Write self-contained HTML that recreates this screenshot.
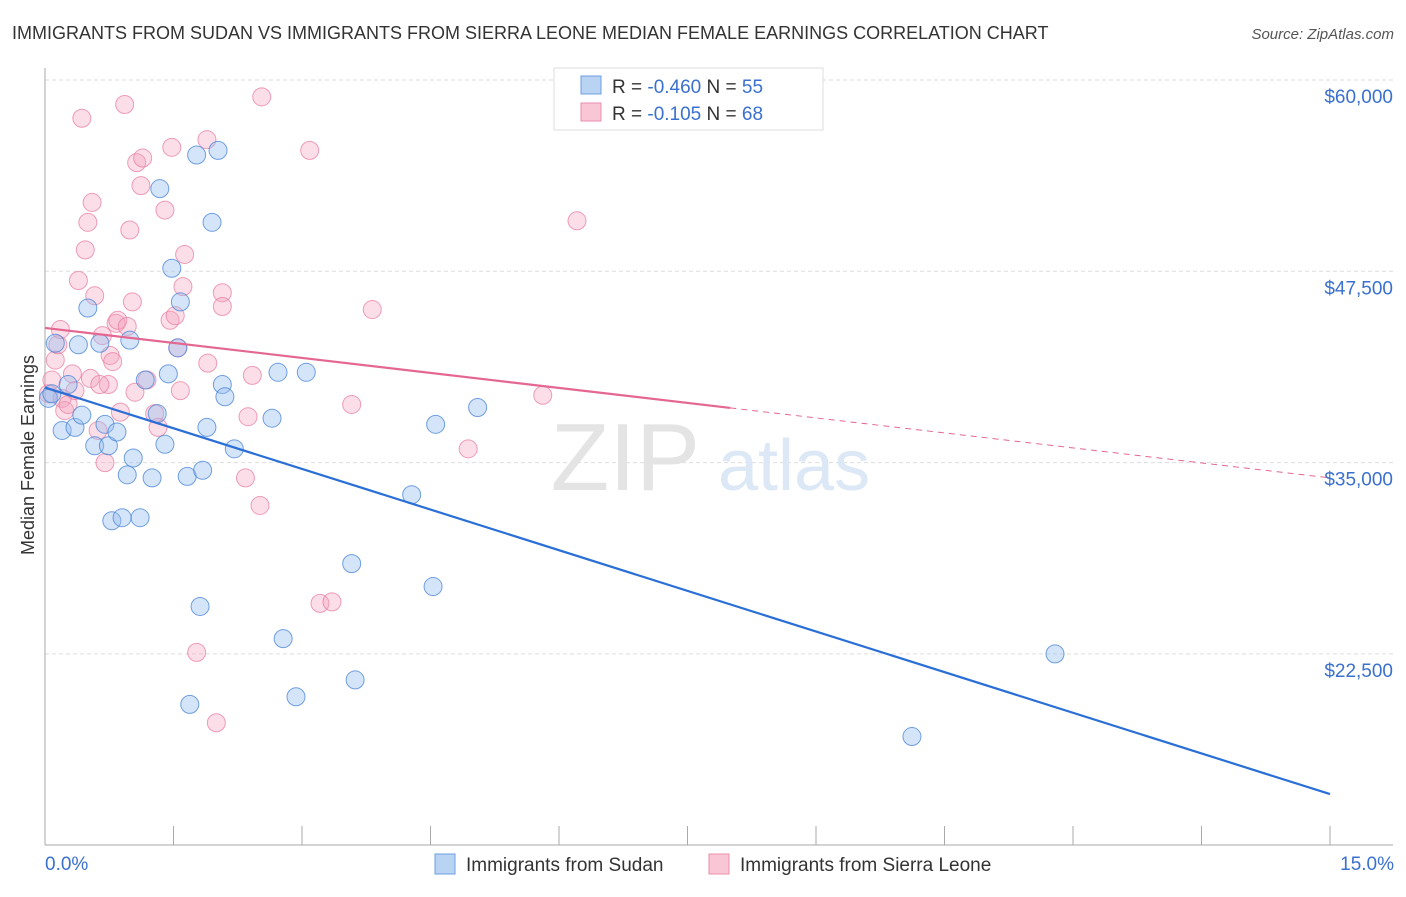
<!DOCTYPE html>
<html><head><meta charset="utf-8"><style>
body{margin:0;background:#fff;font-family:"Liberation Sans",sans-serif;}
svg text{font-family:"Liberation Sans",sans-serif;}
</style></head><body>
<svg id="chart" width="1406" height="892" viewBox="0 0 1406 892" xmlns="http://www.w3.org/2000/svg">
<text x="12" y="39" font-size="18" fill="#333">IMMIGRANTS FROM SUDAN VS IMMIGRANTS FROM SIERRA LEONE MEDIAN FEMALE EARNINGS CORRELATION CHART</text>
<text x="1394" y="39" font-size="15" fill="#555" font-style="italic" text-anchor="end">Source: ZipAtlas.com</text>
<g id="grid"></g>
<text x="700" y="490" font-size="96" fill="#e4e4e4" text-anchor="end" font-family="Liberation Serif">ZIP</text>
<text x="718" y="490" font-size="72" fill="#dce8f6">atlas</text>
<g id="axes"></g>
<g id="pts"></g>
<g id="lines"></g>
<text transform="translate(34,455) rotate(-90)" font-size="18" fill="#333" text-anchor="middle">Median Female Earnings</text>
<g>
<rect x="554" y="68" width="269" height="62" fill="#fff" stroke="#ddd"/>
<rect x="581" y="76" width="20" height="18" fill="#b9d3f3" stroke="#6d9fe0"/>
<rect x="581" y="103" width="20" height="18" fill="#f9c6d5" stroke="#ec8fab"/>
<text x="612" y="93" font-size="19" fill="#333">R = <tspan fill="#3a70cf">-0.460</tspan>   N = <tspan fill="#3a70cf">55</tspan></text>
<text x="612" y="120" font-size="19" fill="#333">R =  <tspan fill="#3a70cf">-0.105</tspan>   N = <tspan fill="#3a70cf">68</tspan></text>
</g>
<g>
<rect x="435" y="854" width="20" height="20" fill="#b9d3f3" stroke="#6d9fe0"/>
<text x="466" y="871" font-size="19" fill="#333">Immigrants from Sudan</text>
<rect x="709" y="854" width="20" height="20" fill="#f9c6d5" stroke="#ec8fab"/>
<text x="740" y="871" font-size="19" fill="#333">Immigrants from Sierra Leone</text>
</g>
</svg>
<script>
const yTicks=[60000,47500,35000,22500];
const yTickLabels=["$60,000","$47,500","$35,000","$22,500"];
const xTickLabels=["0.0%","15.0%"];
const sudanX=[0.04,0.08,0.12,0.20,0.27,0.35,0.39,0.43,0.50,0.58,0.64,0.70,0.74,0.78,0.84,0.90,0.96,0.99,1.03,1.11,1.17,1.25,1.31,1.34,1.40,1.44,1.48,1.55,1.58,1.66,1.77,1.81,1.84,1.89,1.95,2.02,2.07,2.10,2.21,2.65,2.72,2.78,2.93,3.05,3.58,3.62,4.28,4.53,4.56,5.05,11.79,10.12,1.69];
const sudanY=[39200,39500,42800,37100,40100,37300,42700,38100,45100,36100,42800,37500,36100,31200,37000,31400,34200,43000,35300,31400,40400,34000,38200,52900,36200,40800,47700,42500,45500,34100,55100,25600,34500,37300,50700,55400,40100,39300,35900,37900,40900,23500,19700,40900,28400,20800,32900,26900,37500,38600,22500,17100,19200];
const sierraX=[0.04,0.08,0.12,0.15,0.20,0.23,0.27,0.32,0.39,0.43,0.47,0.50,0.55,0.58,0.62,0.67,0.70,0.74,0.76,0.79,0.83,0.85,0.88,0.93,0.96,0.99,1.02,1.05,1.07,1.12,1.14,1.19,1.28,1.32,1.40,1.46,1.48,1.52,1.55,1.58,1.61,1.63,1.77,1.89,1.90,2.00,2.07,2.07,2.37,2.34,2.42,2.51,2.53,3.09,3.21,3.35,3.58,3.82,4.94,5.81,6.21,0.53,0.64,0.35,0.18];
const sierraY=[39500,40400,41700,42700,39200,38400,38800,40800,46900,57500,48900,50700,52000,45900,37100,43300,35000,40100,42000,41600,44100,44300,38300,58400,43900,50200,45500,39600,54600,53100,54900,40400,38200,37300,51500,44300,55600,44600,42500,39700,46500,48600,22600,56100,41500,18000,46100,45200,38000,34000,40700,32200,58900,55400,25800,25900,38800,45000,35900,39400,50800,40500,40100,39700,43700];
const sudanTrend=[39900,13340];
const sierraTrend=[43800,34000];
const sierraSolidEnd=8.0;
const NS="http://www.w3.org/2000/svg";
const X0=45,X1=1330,Y0=80,PPY=191.3/12500;
const sx=v=>X0+(X1-X0)*v/15;
const sy=v=>Y0+(60000-v)*PPY;
function mk(tag,attrs,parent){const e=document.createElementNS(NS,tag);for(const k in attrs)e.setAttribute(k,attrs[k]);parent.appendChild(e);return e;}
const grid=document.getElementById('grid'),axes=document.getElementById('axes');
yTicks.forEach((t,i)=>{
 const l=mk('line',{x1:X0,x2:1393,y1:sy(t),y2:sy(t),stroke:'#ddd','stroke-dasharray':'4,3'},grid);
 
 
 const tx=mk('text',{x:1393,y:sy(t)+23,'font-size':19,fill:'#3a70cf','text-anchor':'end'},axes);
 tx.textContent=yTickLabels[i];
 
 
});
const ya=mk('line',{x1:X0,x2:X0,y1:68,y2:845,stroke:'#aaa'},axes);


const xa=mk('line',{x1:X0,x2:1393,y1:845,y2:845,stroke:'#aaa'},axes);


for(let i=0;i<=10;i++){
 const tk=mk('line',{x1:sx(i*1.5),x2:sx(i*1.5),y1:826,y2:845,stroke:'#aaa'},axes);
 
 
}
[[0,'start',45],[1,'end',1394]].forEach(([i,a,x])=>{
 const t=mk('text',{x:x,y:870,'font-size':19,fill:'#3a70cf','text-anchor':a},axes);
 t.textContent=xTickLabels[i];
 
 
});
const pts=document.getElementById('pts');
sierraX.forEach((x,i)=>{
 const c=mk('circle',{cx:sx(x),cy:sy(sierraY[i]),r:9,fill:'rgba(244,160,188,0.35)',stroke:'rgba(232,120,155,0.7)','stroke-width':1},pts);
 
 
});
sudanX.forEach((x,i)=>{
 const c=mk('circle',{cx:sx(x),cy:sy(sudanY[i]),r:9,fill:'rgba(150,190,240,0.4)',stroke:'rgba(70,130,215,0.75)','stroke-width':1},pts);
 
 
});
const lines=document.getElementById('lines');
const bl=mk('line',{x1:sx(0),y1:sy(sudanTrend[0]),x2:sx(15),y2:sy(sudanTrend[1]),stroke:'#2a6fd6','stroke-width':2.2},lines);


const pm=sierraTrend[0]+(sierraTrend[1]-sierraTrend[0])*sierraSolidEnd/15;
const pl=mk('line',{x1:sx(0),y1:sy(sierraTrend[0]),x2:sx(sierraSolidEnd),y2:sy(pm),stroke:'#e46791','stroke-width':2.2},lines);


const pd=mk('line',{x1:sx(sierraSolidEnd),y1:sy(pm),x2:sx(15),y2:sy(sierraTrend[1]),stroke:'#e46791','stroke-width':1,'stroke-dasharray':'6,5'},lines);


</script>
</body></html>
